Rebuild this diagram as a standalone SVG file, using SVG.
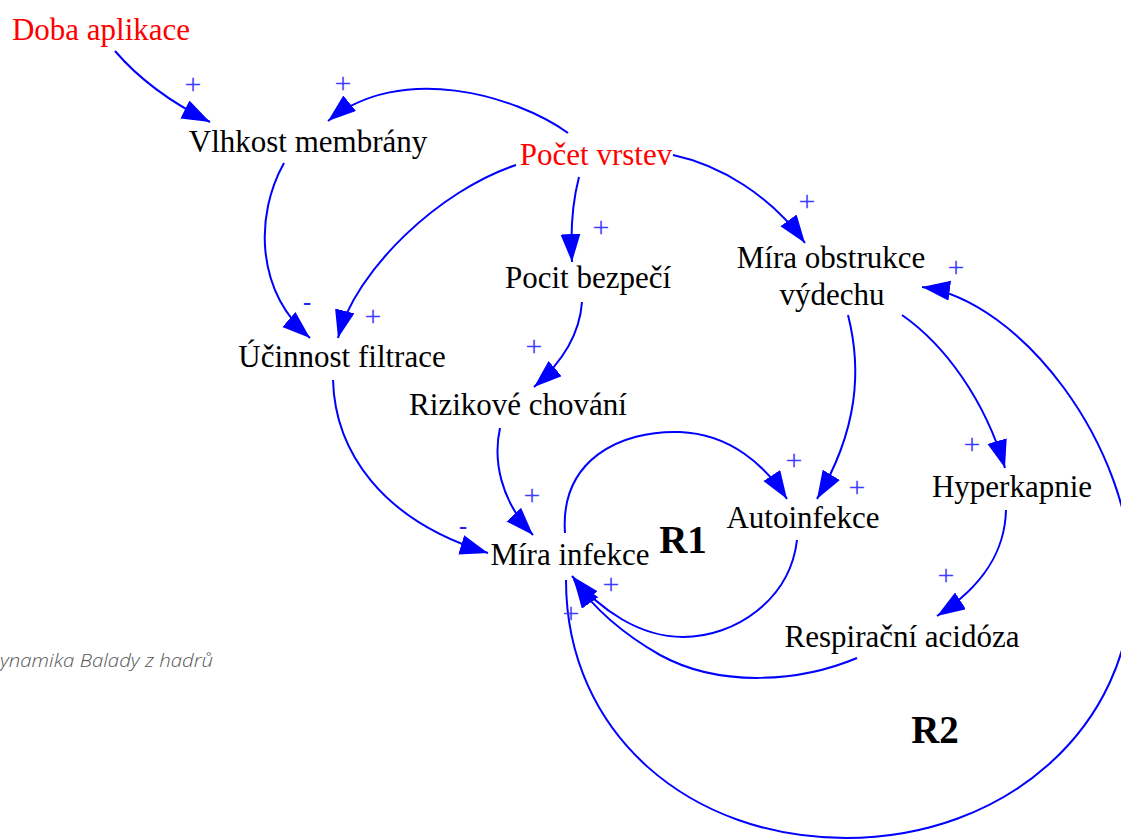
<svg xmlns="http://www.w3.org/2000/svg" width="1121" height="839" viewBox="0 0 1121 839">
<style>
.n{font-family:"Liberation Serif","Times New Roman",serif;font-size:31px;fill:#000;text-anchor:middle}
.red{fill:#ff0000}
.loop{font-family:"Liberation Serif","Times New Roman",serif;font-size:39px;font-weight:bold;fill:#000;text-anchor:middle}
.p{font-family:"Liberation Serif","Times New Roman",serif;font-size:30px;fill:#3c3cff;text-anchor:middle}
.m{font-family:"Liberation Sans",Arial,sans-serif;font-size:26px;fill:#2020ff;text-anchor:middle}
.e{fill:none;stroke:#0000ff;stroke-width:2;marker-end:url(#ah)}
.cap{font-family:"Open Sans","Noto Sans",sans-serif;font-size:19px;font-style:italic;font-weight:300;fill:#555}
</style>
<defs>
<marker id="ah" markerUnits="userSpaceOnUse" markerWidth="30" markerHeight="22" refX="28" refY="10" orient="auto">
<path d="M0,0 L28,10 L0,20 z" fill="#0000ff"/>
</marker>
</defs>
<rect width="1121" height="839" fill="#fff"/>
<g id="connectors">
<path class="e" d="M115,51 Q150,92 210,122"/>
<path class="e" d="M568,133 C515,95 400,62 328,121"/>
<path class="e" d="M284,163 C255,215 255,290 310,338"/>
<path class="e" d="M516,165 C440,190 355,270 338,338"/>
<path class="e" d="M579,177 C573,200 570,225 572,262"/>
<path class="e" d="M673,155 C720,165 770,195 805,243"/>
<path class="e" d="M582,302 C580,330 565,360 534,387"/>
<path class="e" d="M333,380 C335,450 380,520 488,553"/>
<path class="e" d="M500,428 C493,460 500,500 533,535"/>
<path class="e" d="M565,533 C560,460 620,430 680,432 C730,434 765,465 787,499"/>
<path class="e" d="M797,540 C790,600 735,637 683,637 C640,637 600,610 572,576"/>
<path class="e" d="M848,315 C862,370 858,430 817,499"/>
<path class="e" d="M902,315 C945,345 985,400 1005,468"/>
<path class="e" d="M1006,510 C1005,550 985,585 937,616"/>
<path class="e" d="M857,658 C800,682 720,688 660,655 C625,635 595,610 574,580"/>
<path class="e" d="M566,580 C566,735 691,838 846,838 C1005,838 1132,728 1132,580 C1132,445 1020,300 922,287"/>
</g>
<g id="labels">
<text class="p" x="193" y="94">+</text>
<text class="p" x="343" y="93">+</text>
<text class="m" x="307" y="311">-</text>
<text class="p" x="373" y="326">+</text>
<text class="p" x="601" y="237">+</text>
<text class="p" x="807" y="211">+</text>
<text class="p" x="534" y="356">+</text>
<text class="m" x="463" y="535">-</text>
<text class="p" x="532" y="505">+</text>
<text class="p" x="794" y="470">+</text>
<text class="p" x="857" y="497">+</text>
<text class="p" x="611" y="594">+</text>
<text class="p" x="571" y="623">+</text>
<text class="p" x="972" y="454">+</text>
<text class="p" x="946" y="585">+</text>
<text class="p" x="956" y="277">+</text>
</g>
<g id="doba-aplikace"><text class="n red" x="101" y="40">Doba aplikace</text></g>
<g id="vlhkost-membrany"><text class="n" x="308" y="152">Vlhkost membrány</text></g>
<g id="pocet-vrstev"><text class="n red" x="596" y="165">Počet vrstev</text></g>
<g id="pocit-bezpeci"><text class="n" x="588" y="288">Pocit bezpečí</text></g>
<g id="mira-obstrukce"><text class="n" x="831" y="268">Míra obstrukce</text><text class="n" x="832" y="305">výdechu</text></g>
<g id="ucinnost-filtrace"><text class="n" x="342" y="367">Účinnost filtrace</text></g>
<g id="rizikove-chovani"><text class="n" x="518" y="415">Rizikové chování</text></g>
<g id="mira-infekce"><text class="n" x="570" y="565">Míra infekce</text></g>
<g id="autoinfekce"><text class="n" x="803" y="528">Autoinfekce</text></g>
<g id="hyperkapnie"><text class="n" x="1012" y="497">Hyperkapnie</text></g>
<g id="respiracni-acidoza"><text class="n" x="902" y="647">Respirační acidóza</text></g>
<g id="r1"><text class="loop" x="683" y="553">R1</text></g>
<g id="r2"><text class="loop" x="935" y="743">R2</text></g>
<g id="caption"><text class="cap" x="0" y="667" textLength="213" lengthAdjust="spacingAndGlyphs">ynamika Balady z hadrů</text></g>
</svg>
